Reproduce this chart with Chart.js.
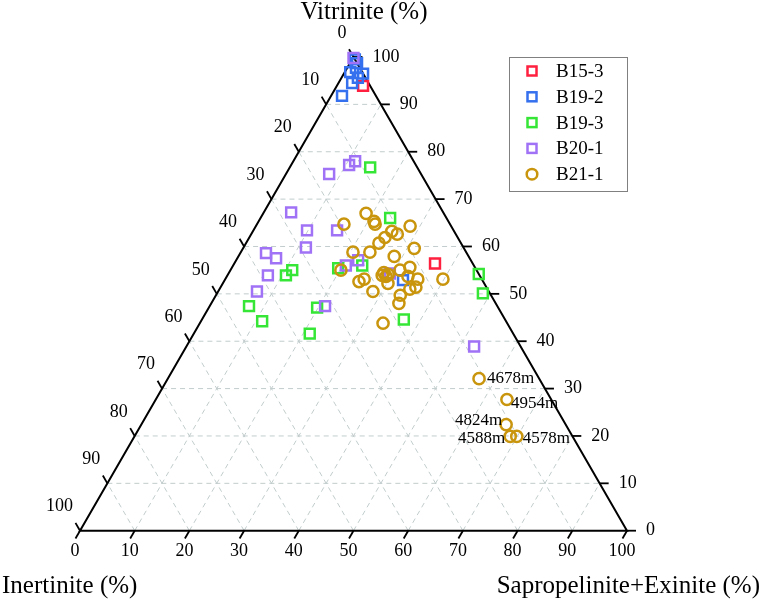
<!DOCTYPE html>
<html><head><meta charset="utf-8">
<script src="https://cdn.jsdelivr.net/npm/chart.js@4/dist/chart.umd.min.js"></script>
<style>html,body{margin:0;padding:0;background:#fff;}#wrap{width:762px;height:599px;position:relative;}</style>
</head><body><div id="wrap"><canvas id="c"></canvas></div>
<script>
// Each sample: [Vitrinite %, Inertinite %, Sapropelinite+Exinite %]
const seriesNames = ['B15-3', 'B19-2', 'B19-3', 'B20-1', 'B21-1'];
const B15_3 = [[93.9,1.3,4.8],[56.4,6.9,36.7]];
const B19_2 = [[99.5,0,0.5],[98.7,0,1.3],[96.8,2.2,1.0],[97.7,0.7,1.6],[96.5,0,3.5],[95.6,1.4,3.0],[94.5,3.0,2.5],[91.8,6.2,2.0],[52.9,14.5,32.6]];
const B19_3 = [[76.7,8.6,14.7],[66.0,10.3,23.7],[55.0,33.7,11.3],[53.9,35.4,10.7],[47.4,45.4,7.2],[44.2,44.6,11.2],[47.1,33.1,19.8],[41.6,37.2,21.2],[56.0,20.4,23.6],[44.6,18.5,36.9],[54.2,0,45.8],[50.1,1.3,48.6],[55.4,25.1,19.5]];
const B20_1 = [[99.8,0.1,0.1],[78.0,10.7,11.3],[77.2,12.2,10.6],[75.3,16.8,7.9],[67.2,27.8,5.0],[63.4,26.8,9.8],[63.4,21.3,15.3],[59.8,28.8,11.4],[58.6,36.7,4.7],[57.5,35.4,7.1],[53.9,38.7,7.4],[50.5,42.4,7.1],[47.4,31.5,21.1],[56.0,23.4,20.6],[57.1,20.6,22.3],[38.9,8.5,52.6],[54.3,16.2,29.5]];
const B21_1 = [[67.0,14.2,18.8],[64.7,19.4,15.9],[65.3,13.6,21.1],[64.7,13.7,21.6],[64.3,7.5,28.2],[63.2,11.4,25.4],[62.6,10.7,26.7],[61.9,13.3,24.8],[60.7,15.0,24.3],[58.8,20.7,20.5],[58.8,17.6,23.6],[59.6,9.1,31.3],[57.9,13.6,28.5],[55.0,24.8,20.2],[55.6,11.9,32.5],[54.5,17.2,28.3],[54.1,16.6,29.3],[53.9,17.8,28.3],[53.7,17.2,29.1],[55.0,14.0,31.0],[53.7,13.2,33.1],[53.1,11.7,35.2],[53.1,7.1,39.8],[52.6,22.7,24.7],[53.1,21.5,25.4],[52.2,17.6,30.2],[50.5,21.2,28.3],[51.0,14.2,34.8],[51.4,12.9,35.7],[49.7,16.6,33.7],[48.0,17.7,34.3],[43.8,22.7,33.5]];
// labelled B21-1 samples (depths)
const depthLabels = ['4678m', '4954m', '4824m', '4588m', '4578m'];
const B21_1_labelled = [[32.1,11.0,56.9],[27.7,8.1,64.2],[22.4,10.9,66.7],[19.9,11.4,68.7],[19.9,10.2,69.9]];
const tickValues = [0,10,20,30,40,50,60,70,80,90,100];
const axisTitles = ['Vitrinite (%)', 'Inertinite (%)', 'Sapropelinite+Exinite (%)'];

const H = Math.sqrt(3) / 2;
// ternary -> cartesian (base = 100 units)
function toXY(v, s) { return { x: s + v / 2, y: v * H }; }
function ptsOf(arr) { return arr.map(t => toXY(t[0], t[2])); }

const colors = ['#ff1f3f', '#3570ee', '#36e636', '#a072f5', '#c9950d'];
const styles = ['rect', 'rect', 'rect', 'rect', 'circle'];
const seriesData = [B15_3, B19_2, B19_3, B20_1, B21_1.concat(B21_1_labelled)];
const SERIF = '"Liberation Serif", "Times New Roman", serif';

const datasets = seriesData.map((arr, i) => ({
  label: seriesNames[i],
  data: ptsOf(arr),
  pointStyle: styles[i],
  pointRadius: styles[i] === 'rect' ? 7 : 5.6,
  pointHoverRadius: styles[i] === 'rect' ? 7 : 5.6,
  pointBorderWidth: 2.5,
  borderColor: colors[i],
  backgroundColor: 'rgba(0,0,0,0)',
  pointBackgroundColor: 'rgba(0,0,0,0)',
  showLine: false,
  clip: false,
  order: 5 - i
}));

const ternaryPlugin = {
  id: 'ternary',
  beforeDatasetsDraw(chart) {
    const ctx = chart.ctx, xs = chart.scales.x, ys = chart.scales.y;
    const P = (v, s) => { const p = toXY(v, s); return [xs.getPixelForValue(p.x), ys.getPixelForValue(p.y)]; };
    ctx.save();
    // grid
    ctx.strokeStyle = '#c2cccc'; ctx.lineWidth = 1; ctx.setLineDash([5, 4]);
    tickValues.forEach(k => {
      if (k === 0 || k === 100) return;
      let a, b;
      ctx.beginPath(); a = P(k, 0); b = P(k, 100 - k); ctx.moveTo(a[0], a[1]); ctx.lineTo(b[0], b[1]); ctx.stroke();
      ctx.beginPath(); a = P(0, k); b = P(100 - k, k); ctx.moveTo(a[0], a[1]); ctx.lineTo(b[0], b[1]); ctx.stroke();
      ctx.beginPath(); a = P(0, 100 - k); b = P(100 - k, 0); ctx.moveTo(a[0], a[1]); ctx.lineTo(b[0], b[1]); ctx.stroke();
    });
    ctx.setLineDash([]);
    // triangle
    const A = P(0, 0), B = P(0, 100), C = P(100, 0);
    ctx.strokeStyle = '#000'; ctx.lineWidth = 2; ctx.lineJoin = 'miter';
    ctx.beginPath(); ctx.moveTo(A[0], A[1]); ctx.lineTo(B[0], B[1]); ctx.lineTo(C[0], C[1]); ctx.closePath(); ctx.stroke();
    // ticks + labels
    const T = 9;
    ctx.lineWidth = 1.8;
    ctx.fillStyle = '#000'; ctx.font = '18px ' + SERIF;
    tickValues.forEach(k => {
      // bottom: sapropelinite
      let p = P(0, k);
      ctx.beginPath(); ctx.moveTo(p[0], p[1]); ctx.lineTo(p[0] - T * 0.5, p[1] + T * H); ctx.stroke();
      ctx.textAlign = 'center'; ctx.textBaseline = 'middle';
      ctx.fillText(String(k), p[0] - 5, p[1] + 21);
      // left: inertinite
      p = P(100 - k, 0);
      ctx.beginPath(); ctx.moveTo(p[0], p[1]); ctx.lineTo(p[0] - T * 0.5, p[1] - T * H); ctx.stroke();
      ctx.textAlign = 'right';
      ctx.fillText(String(k), p[0] - 7, p[1] - 24);
      // right: vitrinite
      p = P(k, 100 - k);
      ctx.beginPath(); ctx.moveTo(p[0], p[1]); ctx.lineTo(p[0] + T, p[1]); ctx.stroke();
      ctx.textAlign = 'left';
      ctx.fillText(String(k), p[0] + 19, p[1]);
    });
    ctx.restore();
  },
  afterDraw(chart) {
    const ctx = chart.ctx;
    ctx.save();
    // depth labels next to B21-1 labelled points
    const meta = chart.getDatasetMeta(4);
    const n0 = B21_1.length;
    const offs = [[8, 0, 'left'], [4, 4, 'left'], [-4, -4, 'right'], [-5, 2, 'right'], [6, 2, 'left']];
    ctx.fillStyle = '#000'; ctx.font = '17px ' + SERIF; ctx.textBaseline = 'middle';
    depthLabels.forEach((t, i) => {
      const el = meta.data[n0 + i];
      ctx.textAlign = offs[i][2];
      ctx.fillText(t, el.x + offs[i][0], el.y + offs[i][1]);
    });
    // axis titles
    ctx.font = '25px ' + SERIF; ctx.textBaseline = 'alphabetic';
    ctx.textAlign = 'center'; ctx.fillText(axisTitles[0], 364, 19);
    ctx.textAlign = 'left'; ctx.fillText(axisTitles[1], 2, 593);
    ctx.textAlign = 'right'; ctx.fillText(axisTitles[2], 760, 593);
    // legend
    const lx = 509, ly = 57, lw = 118, lh = 134, step = 25.8;
    ctx.strokeStyle = '#808080'; ctx.lineWidth = 1;
    ctx.strokeRect(lx + 0.5, ly + 0.5, lw, lh);
    ctx.font = '19px ' + SERIF; ctx.textAlign = 'left'; ctx.textBaseline = 'middle';
    seriesNames.forEach((nm, i) => {
      const cy = ly + 14 + i * step, cx = lx + 23;
      ctx.strokeStyle = colors[i]; ctx.lineWidth = 2.5;
      if (styles[i] === 'rect') { ctx.strokeRect(cx - 4.5, cy - 4.5, 9, 9); }
      else { ctx.beginPath(); ctx.arc(cx, cy, 5.3, 0, Math.PI * 2); ctx.stroke(); }
      ctx.fillStyle = '#000';
      ctx.fillText(nm, lx + 47, cy + 1);
    });
    ctx.restore();
  }
};

new Chart(document.getElementById('c'), {
  type: 'scatter',
  data: { datasets },
  options: {
    responsive: true, maintainAspectRatio: false, animation: false,
    layout: { padding: { left: 80, right: 135, top: 57, bottom: 68.3 } },
    scales: {
      x: { type: 'linear', min: 0, max: 100, display: false },
      y: { type: 'linear', min: 0, max: 100 * H, display: false }
    },
    plugins: { legend: { display: false }, tooltip: { enabled: false }, title: { display: false } },
    events: []
  },
  plugins: [ternaryPlugin]
});
</script></body></html>
